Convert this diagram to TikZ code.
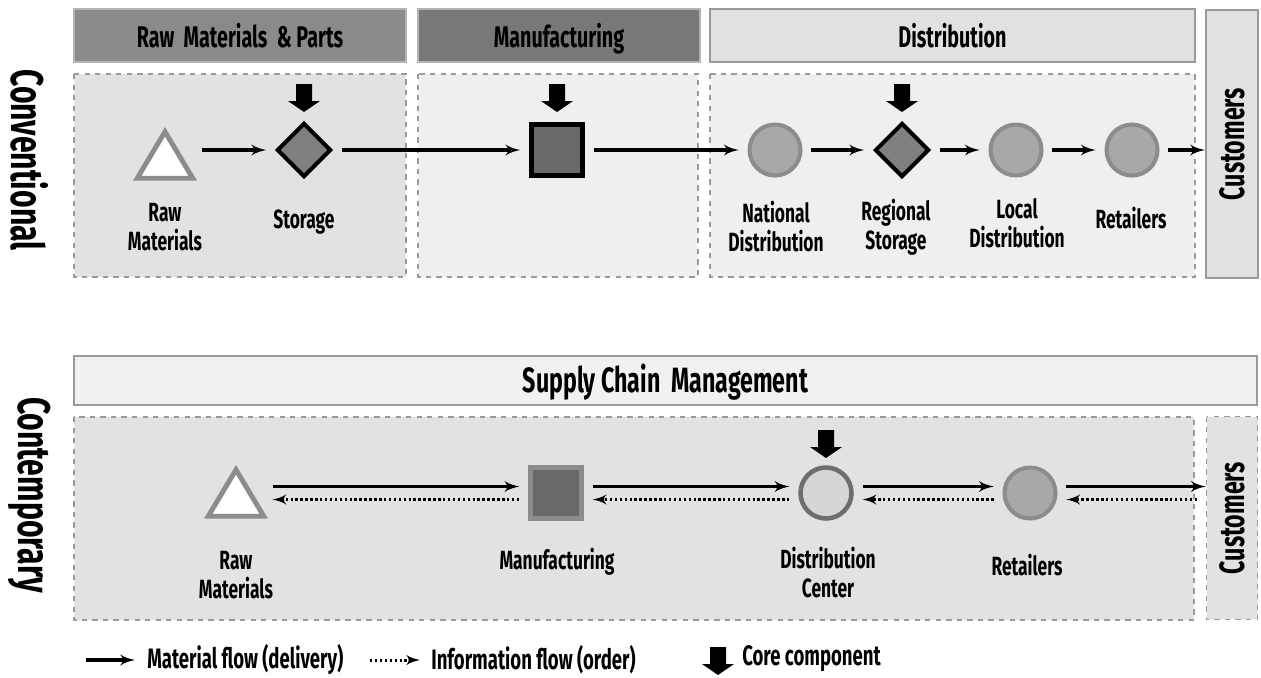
\documentclass[tikz,border=0pt]{standalone}
\usepackage{fontspec}
\setmainfont{Fira Sans}[FakeStretch=0.66]
\usetikzlibrary{arrows, positioning, shapes}

\definecolor{hdrA}{HTML}{8A8A8A}
\definecolor{hdrB}{HTML}{787878}
\definecolor{hdrC}{HTML}{E1E1E1}
\definecolor{hdrD}{HTML}{F1F1F1}
\definecolor{rimA}{HTML}{B4B4B4}
\definecolor{rimB}{HTML}{9A9A9A}
\definecolor{panA}{HTML}{E2E2E2}
\definecolor{panB}{HTML}{EFEFEF}
\definecolor{shpA}{HTML}{8C8C8C}
\definecolor{shpB}{HTML}{A8A8A8}
\definecolor{shpC}{HTML}{696969}
\definecolor{shpD}{HTML}{808080}
\definecolor{shpE}{HTML}{D6D6D6}
\definecolor{shpF}{HTML}{6E6E6E}

\tikzset{
	hdr/.style={line width=1.2pt, font=\bfseries\fontsize{17}{19}\selectfont},
	hdrtext/.style={text height=16pt, text depth=2.6pt},
	panel/.style={draw=rimB, dashed, line width=0.8pt},
	side/.style={rotate=-90, inner sep=0, font=\bfseries\fontsize{26}{28}\selectfont},
	custbox/.style={rotate=90, fill=hdrC, inner sep=0, font=\bfseries\fontsize{20}{22}\selectfont},
	lbl/.style={align=center, inner sep=0, font=\bfseries\fontsize{15}{16.5}\selectfont},
	legend/.style={inner sep=0, anchor=west, font=\bfseries\fontsize{16}{18}\selectfont},
	trinode/.style={inner sep=0, minimum width=1.04cm, minimum height=0.86cm, outer sep=1pt},
	tri/.style={draw=shpA, fill=white, line width=2.8pt},
	hub/.style={circle, draw=shpA, fill=shpB, line width=2.3pt, minimum size=1.02cm, inner sep=0},
	store/.style={diamond, draw=black, fill=shpD, line width=2.3pt, minimum size=1.08cm, inner sep=0},
	plant/.style={rectangle, draw=black, fill=shpC, line width=2.8pt, minimum size=1.02cm, inner sep=0},
	corearr/.pic={\fill (-8,-14) -- (8,-14) -- (8,3) -- (16,3) -- (0,14) -- (-16,3) -- (-8,3) -- cycle;},
	flow/.style={-latex', line width=1.9pt, shorten <=5pt, shorten >=5pt},
	info/.style={-latex', line width=1.7pt, dash pattern=on 1.4pt off 1.4pt, shorten <=5pt, shorten >=5pt}
}

\begin{document}
\begin{tikzpicture}[x=0.02cm, y=-0.02cm]

\useasboundingbox (0,0) rectangle (1261,677);

% conventional
\node [side] (conv) at (30,160) {Conventional};

\draw [hdr, draw=rimA, fill=hdrA] (74,9) rectangle node [hdrtext] (hraw) {Raw\ \ Materials\ \ \&\ Parts} (406,62);
\draw [hdr, draw=rimA, fill=hdrB] (418,9) rectangle node [hdrtext] (hmfg) {Manufacturing} (700,62);
\draw [hdr, draw=rimB, fill=hdrC] (710,9) rectangle node [hdrtext] (hdist) {Distribution} (1195,62);

\draw [panel, fill=panA] (74,74) rectangle (406,277);
\draw [panel, fill=panB] (418,74) rectangle (698,277);
\draw [panel, fill=panB] (710,74) rectangle (1195,277);

\node [custbox, draw=rimB, line width=1.2pt, minimum width=5.36cm, minimum height=1.04cm] (cust) at (1232,144) {Customers};

\node [trinode] (raw) at (165,155) {};
\draw [tri] (raw.south west) -- (raw.south east) -- (raw.north) -- cycle;
\node [store] (stor) at (304,150) {};
\node [plant] (mfg) at (557,150) {};
\node [hub] (natl) at (775,150) {};
\node [store] (regn) at (902,150) {};
\node [hub] (locl) at (1016,150) {};
\node [hub] (retl) at (1132,150) {};

\pic at (304,98) {corearr};
\pic at (557,98) {corearr};
\pic at (902,98) {corearr};

\node [lbl] (rawlbl) at (165,227) {Raw\\Materials};
\node [lbl] (storlbl) at (304,222) {Storage};
\node [lbl] (natllbl) at (776,227) {National\\Distribution};
\node [lbl] (regnlbl) at (896,227) {Regional\\Storage};
\node [lbl] (locllbl) at (1017,223) {Local\\Distribution};
\node [lbl] (retllbl) at (1131,218) {Retailers};

\draw [flow] (raw.east |- stor) -- (stor);
\draw [flow] (stor) -- (mfg);
\draw [flow] (mfg) -- (natl);
\draw [flow] (natl) -- (regn);
\draw [flow] (regn) -- (locl);
\draw [flow] (locl) -- (retl);
\draw [flow, shorten >=0pt] (retl) -- (retl -| cust.north);

% contemporary
\node [side] (cont) at (30,495) {Contemporary};

\draw [hdr, draw=rimB, fill=hdrD] (74,356) rectangle node [hdrtext] (hscm) {\fontsize{20}{22}\selectfont Supply\ Chain\ \ Management} (1257,405);

\draw [panel, fill=panA] (74,417) rectangle (1194,620);
\node [custbox, panel, fill=panA, minimum width=4.06cm, minimum height=1.02cm] (cust2) at (1232,518) {Customers};

\node [trinode] (raw2) at (236,493) {};
\draw [tri] (raw2.south west) -- (raw2.south east) -- (raw2.north) -- cycle;
\node [plant, draw=shpA] (mfg2) at (556,493) {};
\node [hub, draw=shpF, fill=shpE, line width=2.6pt] (dc2) at (826,493) {};
\node [hub] (retl2) at (1030,493) {};

\pic at (826,444) {corearr};

\node [lbl] (rawlbl2) at (236,575) {Raw\\Materials};
\node [lbl] (mfglbl2) at (557,562) {Manufacturing};
\node [lbl] (dclbl2) at (828,573) {Distribution\\Center};
\node [lbl] (retllbl2) at (1027,565) {Retailers};

\draw [flow] ([yshift=3.7pt]raw2.east) -- ([yshift=3.7pt]mfg2.west);
\draw [info] ([yshift=-3.7pt]mfg2.west) -- ([yshift=-3.7pt]raw2.east);
\draw [flow] ([yshift=3.7pt]mfg2.east) -- ([yshift=3.7pt]dc2.west);
\draw [info] ([yshift=-3.7pt]dc2.west) -- ([yshift=-3.7pt]mfg2.east);
\draw [flow] ([yshift=3.7pt]dc2.east) -- ([yshift=3.7pt]retl2.west);
\draw [info] ([yshift=-3.7pt]retl2.west) -- ([yshift=-3.7pt]dc2.east);
\draw [flow, shorten >=0pt] ([yshift=3.7pt]retl2.east) -- ([yshift=3.7pt]retl2.east -| cust2.north);
\draw [info] ([yshift=-3.7pt]retl2.east -| cust2.north) -- ([yshift=-3.7pt]retl2.east);

% legend
\coordinate (lgA) at (86,660);
\coordinate (lgB) at (135,660);
\coordinate (lgC) at (370,660);
\coordinate (lgD) at (420,660);
\draw [flow, shorten <=0pt, shorten >=0pt] (lgA) -- (lgB);
\node [legend, right=0.24cm of lgB] (lgmat) {Material flow (delivery)};
\draw [info, shorten <=0pt, shorten >=0pt] (lgC) -- (lgD);
\node [legend, right=0.22cm of lgD] (lginfo) {Information flow (order)};
\pic at (718,661) {corearr};
\node [legend] (lgcore) at (742,659) {Core component};

\end{tikzpicture}
\end{document}
